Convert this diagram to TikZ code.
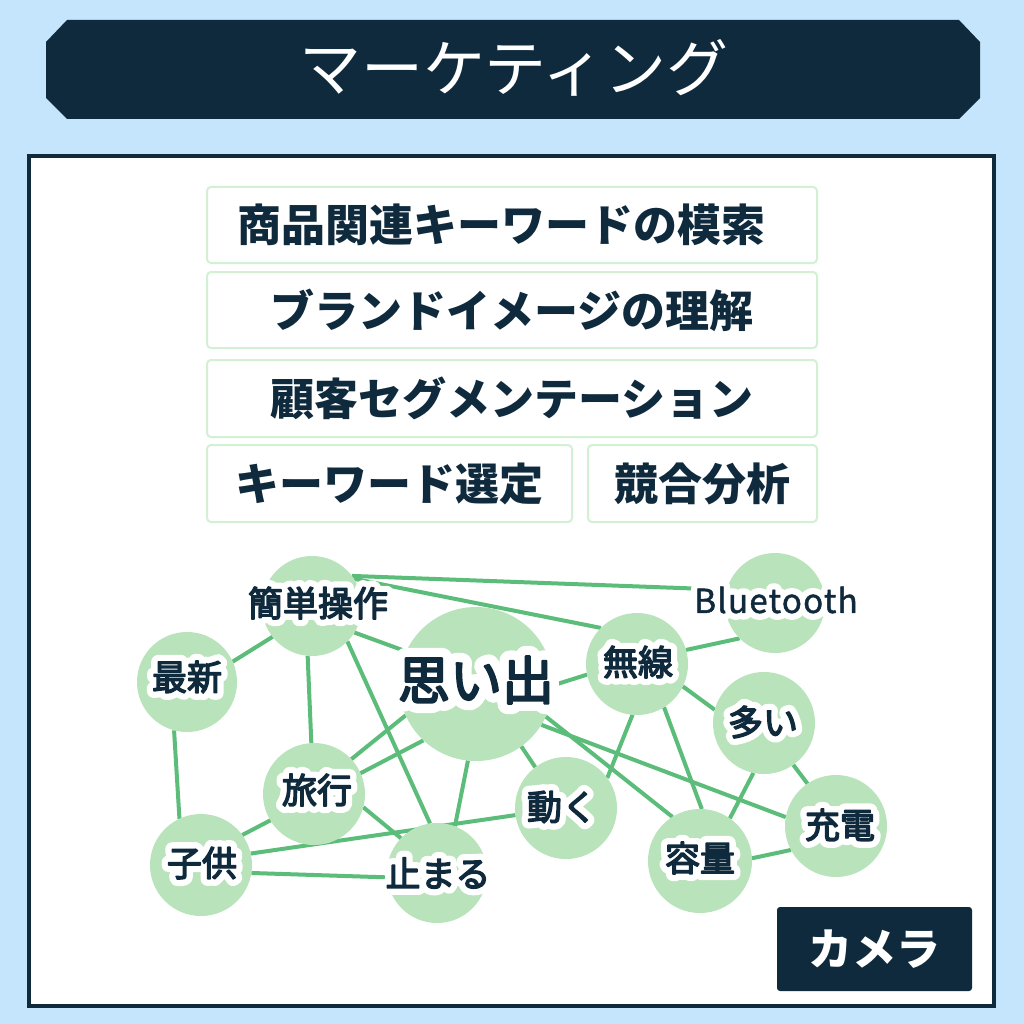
\documentclass[tikz,border=0pt]{standalone}
\usepackage{fontspec}
\newfontfamily\jp{Noto Sans CJK JP}
\newfontfamily\labfnt[FakeBold=4]{Noto Sans CJK JP}
\newfontfamily\halofnt[FakeBold=40]{Noto Sans CJK JP}
\newfontfamily\btfnt[LetterSpace=4,FakeBold=1.5]{Noto Sans CJK JP}
\newfontfamily\bthalo[LetterSpace=4,FakeBold=40]{Noto Sans CJK JP}
\newcommand\lbl[2]{{\fontsize{#1}{#1}\selectfont\rlap{\color{white}\halofnt #2}{\labfnt #2}}}
\definecolor{navy}{HTML}{0F2A3C}
\definecolor{bgc}{HTML}{C4E5FB}
\definecolor{boxc}{HTML}{D4F0D4}
\definecolor{circc}{HTML}{B9E3BB}
\definecolor{edgec}{HTML}{5BBD79}
\pgfdeclarelayer{back}
\pgfdeclarelayer{edges}
\pgfsetlayers{back,edges,main}
\begin{document}
\begin{tikzpicture}[x=1pt,y=-1pt,
  every node/.style={inner sep=0pt, outer sep=0pt},
  kbox/.style={draw=boxc, line width=2pt, rounded corners=4pt, fill=white, text=navy,
    font=\jp\bfseries\fontsize{44}{50}\selectfont},
  circ/.style={circle, fill=circc, minimum size=#1},
  lab/.style={text=navy},
  edge/.style={draw=edgec, line width=4pt}
]
\useasboundingbox (0,0) rectangle (1024,1024);
\begin{pgfonlayer}{back}
  \fill[bgc] (0,0) rectangle (1024,1024);
  \draw[navy, line width=4pt, fill=white] (29,156) rectangle (994,1006);
\end{pgfonlayer}

% title banner
\fill[navy] (46,42) -- (67,20) -- (959,20) -- (980,42) -- (980,98) -- (959,119) -- (67,119) -- (46,98) -- cycle;
\node[text=white, font=\jp\fontsize{62}{70}\selectfont] (title) at (514,68) {マーケティング};

% keyword boxes
\node[kbox, minimum width=610, minimum height=76] (b1) at (512,225) {商品関連キーワードの模索\kern22pt};
\node[kbox, minimum width=610, minimum height=76] (b2) at (512,310) {ブランドイメージの理解};
\node[kbox, minimum width=610, minimum height=77] (b3) at (512,398.5) {顧客セグメンテーション};
\node[kbox, minimum width=365, minimum height=77] (b4) at (389.5,483.5) {キーワード選定};
\node[kbox, minimum width=229, minimum height=77] (b5) at (702.5,483.5) {競合分析};

% circles
\node[circ=100] (K) at (312,606) {};
\node[circ=100] (S) at (187,682) {};
\node[circ=154] (O) at (476,684) {};
\node[circ=102] (R) at (314,794) {};
\node[circ=102] (C) at (201,865) {};
\node[circ=100] (T) at (437,873) {};
\node[circ=102] (D) at (566,808) {};
\node[circ=102] (M) at (637,664) {};
\node[circ=100] (B) at (775,603) {};
\node[circ=102] (A) at (764,723) {};
\node[circ=102] (J) at (836,826) {};
\node[circ=104] (Y) at (700,861) {};

% labels
\begin{scope}[line join=round]
\node[lab] (Kl) at (318,603) {\lbl{35}{簡単操作}};
\node[lab] (Sl) at (187,677) {\lbl{35}{最新}};
\node[lab] (Ol) at (476,680) {\lbl{52}{思い出}};
\node[lab] (Rl) at (317,790) {\lbl{35}{旅行}};
\node[lab] (Cl) at (202,863) {\lbl{35}{子供}};
\node[lab] (Tl) at (438,873) {\lbl{35}{止まる}};
\node[lab] (Dl) at (562,807) {\lbl{35}{動く}};
\node[lab] (Ml) at (638,662) {\lbl{35}{無線}};
\node[lab] (bt) at (776,600) {\fontsize{33}{33}\selectfont\rlap{\color{white}\bthalo Bluetooth}{\btfnt Bluetooth}};
\node[lab] (Al) at (763,722) {\lbl{35}{多い}};
\node[lab] (Jl) at (840,825) {\lbl{35}{充電}};
\node[lab] (Yl) at (700,858) {\lbl{35}{容量}};
\end{scope}

% edges
\begin{pgfonlayer}{edges}
\draw[edge] (K.37) -- (bt.172);
\draw[edge] (K.33) -- (M.135);
\draw[edge] (K.-32) -- (O.155);
\draw[edge] (K.218) -- (S.24);
\draw[edge] (K.265) -- (R.93);
\draw[edge] (K.-45) -- (T.98);
\draw[edge] (S.255) -- (C.115);
\draw[edge] (R.43) -- (O.204);
\draw[edge] (C.36) -- (O.227);
\draw[edge] (R.-15) -- (T.136);
\draw[edge] (C.13) -- (D.188);
\draw[edge] (C.-9) -- (T.185);
\draw[edge] (O.264) -- (T.69);
\draw[edge] (O.-54) -- (D.127);
\draw[edge] (O.-1) -- (M.192);
\draw[edge] (O.-25) -- (Y.122);
\draw[edge] (O.-32) -- (J.170);
\draw[edge] (M.16) -- (B.225);
\draw[edge] (M.-26) -- (A.165);
\draw[edge] (M.265) -- (D.36);
\draw[edge] (M.-58) -- (Y.88);
\draw[edge] (A.258) -- (Y.55);
\draw[edge] (A.-55) -- (J.124);
\draw[edge] (Y.3) -- (J.208);
\end{pgfonlayer}

% camera tag
\node[fill=navy, rounded corners=3pt, minimum width=195, minimum height=84, text=white,
  font=\jp\bfseries\fontsize{44}{50}\selectfont] (cam) at (874.5,949) {カメラ};
\end{tikzpicture}
\end{document}
